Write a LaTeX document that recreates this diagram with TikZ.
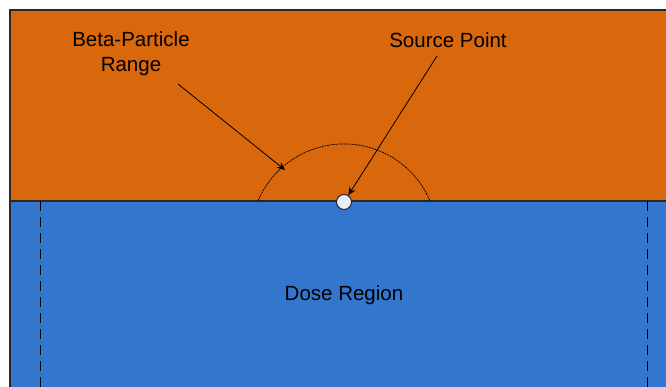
\documentclass[tikz,border=0pt]{standalone}
\usepackage{fontspec}
\setmainfont{Liberation Sans}
\usetikzlibrary{positioning,arrows.meta}
\definecolor{betaorange}{RGB}{217,103,11}
\definecolor{doseblue}{RGB}{52,118,205}
\definecolor{edgegray}{RGB}{40,40,40}
\tikzset{label text/.style={font=\fontsize{20.5}{25}\selectfont, align=center, inner sep=0pt},
         pointer/.style={-{Stealth[length=8pt,width=7pt]}, line width=0.8pt}}

\begin{document}
\begin{tikzpicture}[x=1pt, y=-1pt]

             \useasboundingbox (0,0) rectangle (666,387);

             \fill[betaorange] (10,10) rectangle (666,201);
             \fill[doseblue] (10,201) rectangle (666,387);
             \draw[edgegray, line width=1.5pt] (10,387) -- (10,10) -- (666,10);
             \draw[edgegray, line width=1.5pt] (10,201) -- (666,201);

             \draw[dashed, dash pattern=on 10pt off 6pt, line width=1pt] (40,201) -- (40,387);
             \draw[dashed, dash pattern=on 10pt off 6pt, line width=1pt] (647,201) -- (647,387);

             \draw[dash pattern=on 2pt off 0.8pt, line width=0.7pt] (258,201) arc[start angle=-157.1, end angle=-22.9, radius=93.4];

             \node (src) [circle, draw=edgegray, fill={rgb,255:red,232;green,238;blue,248}, line width=1pt, minimum size=15pt, inner sep=0pt] at (344,202) {};

             \node (beta) [label text] at (131,54) {Beta-Particle\\Range};
             \node (source) [label text] at (448,40) {Source Point};
             \node (dose) [label text] at (344,295) {Dose Region};

             \coordinate (betatail) at (178,84);
             \coordinate (rim) at (285,170);
             \coordinate (sourcetail) at (437,56);

             \draw [pointer] (betatail) to (rim);
             \draw [pointer] (sourcetail) to (src);

          \end{tikzpicture}
\end{document}
